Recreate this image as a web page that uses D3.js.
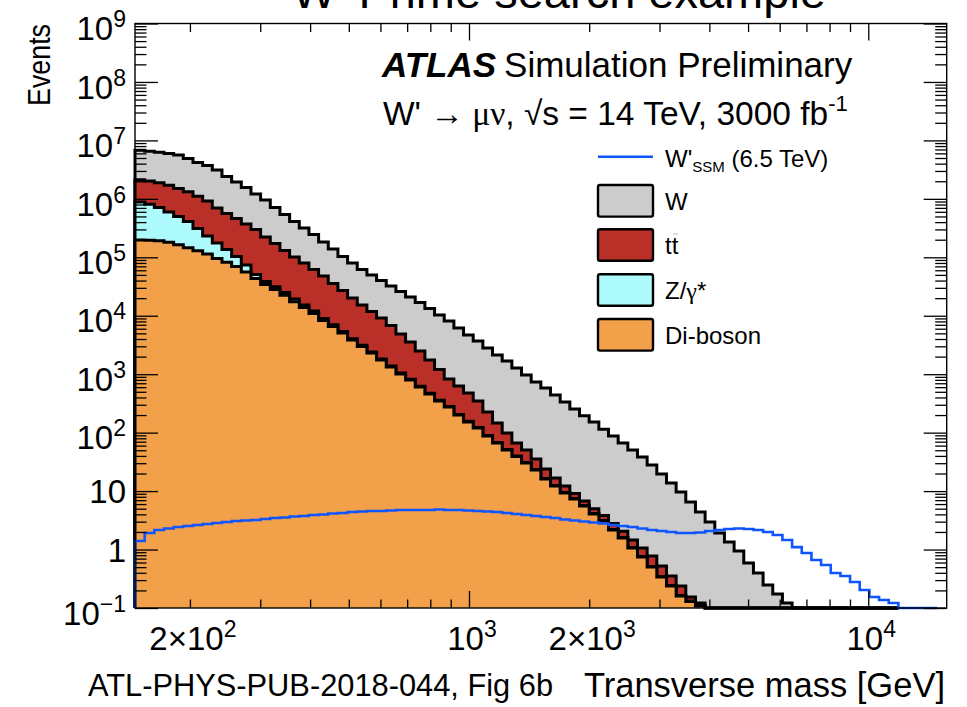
<!DOCTYPE html>
<html><head><meta charset="utf-8">
<script src="https://cdn.jsdelivr.net/npm/d3@7"></script>
<style>
body{margin:0;background:#fff;}
text{font-family:"Liberation Sans",Arial,Helvetica,sans-serif;fill:#000;}
.sym{font-family:"Liberation Serif","DejaVu Serif",serif;}
</style></head><body>
<svg id="c" width="967" height="707"></svg>
<script>
// ---- binning / ranges ----
const xMin = 145.7, xMax = 15720, nBins = 84;
const yMin = 0.1, yMax = 1e9;

// ---- series values (events per bin) ----
const diboson = [1.98e5,1.95e5,1.92e5,1.81e5,1.64e5,1.45e5,1.30e5,1.14e5,9.54e4,8.21e4,
6.96e4,5.60e4,4.34e4,3.42e4,2.81e4,2.25e4,1.73e4,1.38e4,1.09e4,8290,
6540,5070,3850,2980,2300,1750,1330,1010,796,604,
458,348,274,200,152,120,87.6,66.5,50.5,39.1,
30.2,23.0,16.1,12.2,9.27,7.32,5.56,4.06,3.08,2.16,
1.58,1.06,0.745,0.503,0.339,0.238,0.160,0.129,0.108,0,
0,0,0,0,0,0,0,0,0,0,0,0,0,0,0,0,0,0,0];
const zgamma = [6.85e5,6.12e5,5.19e5,4.15e5,3.35e5,2.65e5,1.81e5,1.17e5,8.06e4,5.39e4,
3.34e4,1.78e4,7400,4300,3200,2500,2000,1500,1100,680,
460,310,200,140,100,70,50,35,25,18,
13,9,7,5,4,3,2,1.5,1.1,0.8,
0.6,0.45,0.33,0.25,0.19,0.14,0.1,0.08,0.06,0.04,
0.03,0.02,0.015,0.01,0.008,0.005,0.004,0.003,0.002,0,
0,0,0,0,0,0,0,0,0,0,0,0,0,0,0,0,0,0,0];
const ttbar = [1.237e6,1.213e6,1.179e6,1.114e6,1.001e6,9.10e5,7.99e5,6.88e5,5.21e5,4.25e5,
3.58e5,2.97e5,2.48e5,1.835e5,1.407e5,1.06e5,8.17e4,6.46e4,4.98e4,3.89e4,
2.86e4,2.16e4,1.605e4,1.218e4,9400,7330,5430,3830,2730,1870,
1280,843,546,423,321,225,135,78,47,26.6,
19.7,11.95,7.47,4.25,2.74,1.6,1.1,0.85,0.7,0.6,
0.45,0.38,0.30,0.262,0.176,0.109,0.075,0.023,0.012,0,
0,0,0,0,0,0,0,0,0,0,0,0,0,0,0,0,0,0,0];
const wjets = [4.65e6,4.52e6,4.39e6,4.28e6,4.13e6,3.58e6,3.07e6,2.80e6,2.42e6,1.85e6,
1.48e6,1.19e6,9.11e5,7.34e5,5.39e5,4.09e5,3.09e5,2.37e5,1.83e5,1.35e5,
1.03e5,7.6e4,5.98e4,4.65e4,3.80e4,3.10e4,2.55e4,2.11e4,1.735e4,1.44e4,
1.155e4,9100,7300,5540,4200,3350,2590,1980,1580,1210,
918,700,556,424,322,245,187,147,111,84.8,
64.5,49.0,37.2,27.1,19.1,13.4,9.41,6.36,4.27,2.96,
1.92,1.35,0.944,0.588,0.397,0.247,0.173,0.122,0,0,
0,0,0,0,0,0,0,0,0];
const wprime = [1.40,1.92,2.16,2.29,2.43,2.53,2.63,2.73,2.84,2.96,
3.08,3.14,3.20,3.33,3.46,3.53,3.67,3.75,3.90,3.98,
4.14,4.22,4.39,4.47,4.56,4.56,4.65,4.75,4.75,4.75,
4.75,4.84,4.75,4.75,4.65,4.56,4.47,4.39,4.22,4.06,
3.90,3.75,3.60,3.46,3.27,3.14,3.02,2.90,2.79,2.63,
2.53,2.43,2.29,2.16,2.08,2.00,1.92,1.92,1.96,2.08,
2.16,2.25,2.29,2.25,2.16,2.00,1.77,1.46,1.10,0.872,
0.662,0.544,0.397,0.352,0.278,0.203,0.154,0.137,0.122,0,
0,0,0];

// ---- labels / ticks ----
const stackKeys = ["D","Z","T","W"];
const legendLabels = ["W","tt","Z/γ*","Di-boson"];
const yLabelPowers = [-1,0,1,2,3,4,5,6,7,8,9];
const xMajorTicks = [1000,10000];
const xMinorTicks = [200,300,400,500,600,700,800,900,2000,3000,4000,5000,6000,7000,8000,9000];
const xTickLabels = [{v:200,base:"2×10",exp:"2"},{v:1000,base:"10",exp:"3"},{v:2000,base:"2×10",exp:"3"},{v:10000,base:"10",exp:"4"}];

// ---- styles ----
const colors = {D:"#f2a04a",Z:"#aefbfd",T:"#ba2f27",W:"#cccccc"};
const blue = "#0f55ff";

const W = 967, H = 707;
const m = {l:135, r:946.7, t:23.5, b:608};
const svg = d3.select("#c");
svg.append("rect").attr("width",W).attr("height",H).attr("fill","#fff");

const x = d3.scaleLog().domain([xMin,xMax]).range([m.l,m.r]);
const y = d3.scaleLog().domain([yMin,yMax]).range([m.b,m.t]);
const lw = Math.log10(xMax/xMin)/nBins;
const edges = d3.range(nBins+1).map(i => xMin*Math.pow(10,i*lw));

svg.append("defs").append("clipPath").attr("id","clip")
  .append("rect").attr("x",m.l-2).attr("y",m.t).attr("width",m.r-m.l+4).attr("height",m.b-m.t+3);
const plot = svg.append("g").attr("clip-path","url(#clip)");

const rows = diboson.map((d,i)=>({D:d,Z:zgamma[i],T:ttbar[i],W:wjets[i]}));
const series = d3.stack().keys(stackKeys)(rows);

function stepPath(vals, closed){
  let p = `M${x(edges[0])},${m.b}`;
  vals.forEach((v,i)=>{
    const yy = y(Math.max(v,yMin));
    p += `V${yy}H${x(edges[i+1])}`;
  });
  p += `V${m.b}`;
  if(closed) p += "Z";
  return p;
}

// draw from top of stack down (ROOT THStack style)
series.slice().reverse().forEach(s=>{
  const tops = s.map(d=>d[1]);
  plot.append("path").attr("d",stepPath(tops,true)).attr("fill",colors[s.key]).attr("stroke","none");
  plot.append("path").attr("d",stepPath(tops,false)).attr("fill","none")
    .attr("stroke","#000").attr("stroke-width",3).attr("stroke-linejoin","miter");
});
plot.append("path").attr("d",stepPath(wprime,false)).attr("fill","none")
  .attr("stroke",blue).attr("stroke-width",2.6);

// ---- axes ----
const yMajor = yLabelPowers.map(p=>Math.pow(10,p));
const yMinor = [];
for(let p=-1;p<9;p++) for(let k=2;k<=9;k++) yMinor.push(k*Math.pow(10,p));
function styleAxis(g){ g.select(".domain").remove(); g.selectAll("line").attr("stroke","#000").attr("stroke-width",1.3); }
svg.append("g").attr("transform",`translate(${m.l},0)`).call(d3.axisLeft(y).tickValues(yMajor).tickSize(-23).tickFormat("")).call(styleAxis);
svg.append("g").attr("transform",`translate(${m.l},0)`).call(d3.axisLeft(y).tickValues(yMinor).tickSize(-11.5).tickFormat("")).call(styleAxis);
svg.append("g").attr("transform",`translate(${m.r},0)`).call(d3.axisRight(y).tickValues(yMajor).tickSize(-23).tickFormat("")).call(styleAxis);
svg.append("g").attr("transform",`translate(${m.r},0)`).call(d3.axisRight(y).tickValues(yMinor).tickSize(-11.5).tickFormat("")).call(styleAxis);
svg.append("g").attr("transform",`translate(0,${m.b})`).call(d3.axisBottom(x).tickValues(xMajorTicks).tickSize(-17).tickFormat("")).call(styleAxis);
svg.append("g").attr("transform",`translate(0,${m.b})`).call(d3.axisBottom(x).tickValues(xMinorTicks).tickSize(-8.5).tickFormat("")).call(styleAxis);
svg.append("g").attr("transform",`translate(0,${m.t})`).call(d3.axisTop(x).tickValues(xMajorTicks).tickSize(-17).tickFormat("")).call(styleAxis);
svg.append("g").attr("transform",`translate(0,${m.t})`).call(d3.axisTop(x).tickValues(xMinorTicks).tickSize(-8.5).tickFormat("")).call(styleAxis);
svg.append("rect").attr("x",m.l).attr("y",m.t).attr("width",m.r-m.l).attr("height",m.b-m.t)
  .attr("fill","none").attr("stroke","#000").attr("stroke-width",1.4);

// y labels
yLabelPowers.forEach(p=>{
  const yy = y(Math.pow(10,p));
  const t = svg.append("text").attr("x",126).attr("text-anchor","end").attr("font-size",33);
  if(p===0||p===1){ t.attr("y",yy+12).text(p===0?"1":"10"); }
  else {
    t.attr("y",yy+16.7);
    t.append("tspan").text("10");
    t.append("tspan").attr("font-size",23).attr("dy",-13).text(p<0?"−1":String(p));
  }
});
// x labels
xTickLabels.forEach(d=>{
  const t = svg.append("text").attr("x",x(d.v)+3).attr("y",650).attr("text-anchor","middle").attr("font-size",33);
  t.append("tspan").text(d.base);
  t.append("tspan").attr("font-size",23).attr("dy",-13).text(d.exp);
});

// titles
svg.append("text").attr("x",559).attr("y",8).attr("text-anchor","middle").attr("font-size",47).text("W' Prime search example");
svg.append("text").attr("transform","translate(50,24) rotate(-90)").attr("text-anchor","end").attr("font-size",31)
  .attr("textLength",82).attr("lengthAdjust","spacingAndGlyphs").text("Events");
svg.append("text").attr("x",945).attr("y",697).attr("text-anchor","end").attr("font-size",34.5).text("Transverse mass [GeV]");
svg.append("text").attr("x",88).attr("y",696).attr("font-size",30.8).attr("fill","#1a1a1a").text("ATL-PHYS-PUB-2018-044, Fig 6b");

// ATLAS label
const at = svg.append("text").attr("x",382).attr("y",77).attr("font-size",35);
at.append("tspan").attr("font-weight","bold").attr("font-style","italic").text("ATLAS");
at.append("tspan").attr("dx",8).text("Simulation Preliminary");
const l2 = svg.append("text").attr("x",383).attr("y",125).attr("font-size",33.5);
l2.append("tspan").text("W' ");
l2.append("tspan").attr("class","sym").text("→ μν");
l2.append("tspan").text(", √s = 14 TeV, 3000 fb");
l2.append("tspan").attr("font-size",22).attr("dy",-14).text("-1");

// legend
const lg = svg.append("g");
const lx0 = 598, lx1 = 653, ltx = 665;
lg.append("line").attr("x1",lx0).attr("x2",lx1).attr("y1",156.7).attr("y2",156.7).attr("stroke",blue).attr("stroke-width",2.6);
const wl = lg.append("text").attr("x",ltx).attr("y",166.5).attr("font-size",24);
wl.append("tspan").text("W'");
wl.append("tspan").attr("font-size",15).attr("dy",5).text("SSM");
wl.append("tspan").attr("dy",-5).text(" (6.5 TeV)");
const rowsY = [200.8,245,290,334.8];
stackKeys.slice().reverse().forEach((k,i)=>{
  lg.append("rect").attr("x",lx0).attr("y",rowsY[i]-15.8).attr("width",lx1-lx0).attr("height",31.6)
    .attr("rx",2).attr("fill",colors[k]).attr("stroke","#000").attr("stroke-width",2.4);
  const t = lg.append("text").attr("x",ltx).attr("y",rowsY[i]+8.7).attr("font-size",24);
  const lab = legendLabels[i];
  if(lab==="tt"){
    t.text("tt");
    lg.append("line").attr("x1",ltx+8).attr("x2",ltx+13).attr("y1",rowsY[i]-11).attr("y2",rowsY[i]-11)
      .attr("stroke","#bbb").attr("stroke-width",1);
  }
  else if(lab.includes("γ")){ t.append("tspan").text("Z/"); t.append("tspan").attr("class","sym").text("γ"); t.append("tspan").text("*"); }
  else t.text(lab);
});
</script>
</body></html>
